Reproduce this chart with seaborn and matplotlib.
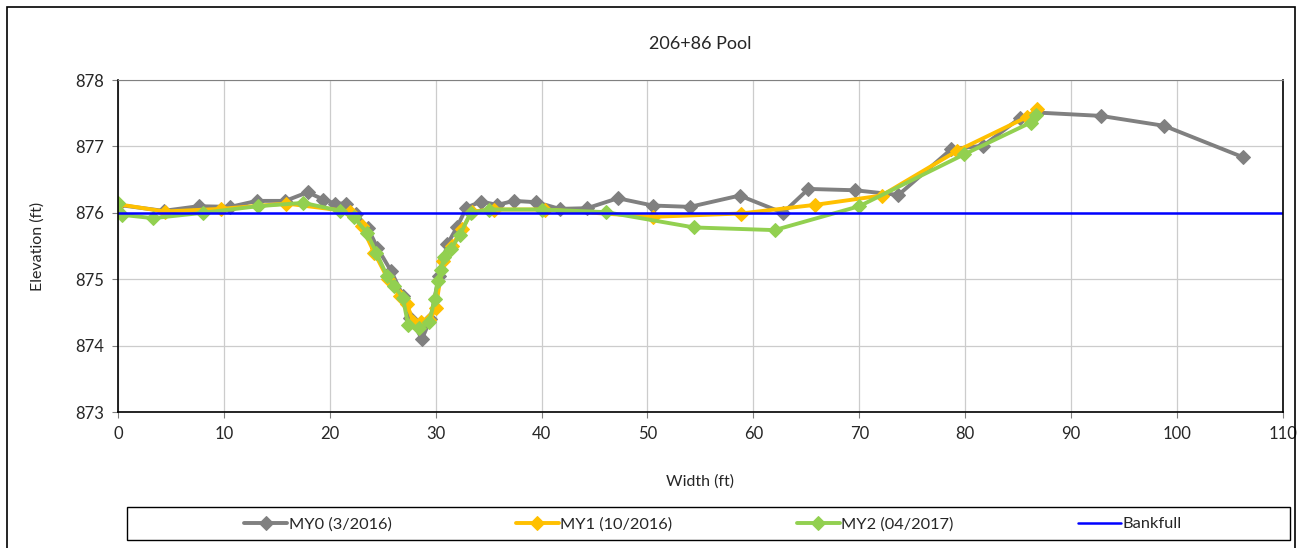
import numpy as np
import pandas as pd
import matplotlib
matplotlib.use("Agg")
import matplotlib.pyplot as plt
import seaborn as sns
from matplotlib.patches import Rectangle

# survey data
my0_x = [0, 4.3, 7.6, 10.6, 13.1, 15.8, 17.9, 19.4, 20.5, 21.5, 22.5, 23.6, 24.5, 25.8,
         26.9, 27.6, 28.7, 29.5, 30.3, 31.1, 32.0, 32.9, 34.3, 35.8, 37.4, 39.5, 41.7,
         44.3, 47.2, 50.5, 54.0, 58.7, 62.8, 65.2, 69.6, 73.7, 78.7, 81.7, 85.2, 86.8,
         92.8, 98.8, 106.2]
my0_y = [876.12, 876.03, 876.10, 876.09, 876.18, 876.18, 876.31, 876.20, 876.14, 876.14,
         875.98, 875.77, 875.47, 875.12, 874.75, 874.42, 874.10, 874.40, 875.05, 875.53,
         875.78, 876.08, 876.17, 876.12, 876.18, 876.16, 876.06, 876.07, 876.22, 876.11,
         876.09, 876.26, 876.00, 876.36, 876.34, 876.27, 876.96, 877.01, 877.43, 877.51,
         877.46, 877.31, 876.84]

my1_x = [0, 4.4, 9.7, 15.9, 21.9, 23.0, 24.2, 25.5, 26.6, 27.3, 27.9, 28.6, 29.4, 30.0,
         30.7, 31.5, 32.5, 33.4, 35.5, 40.3, 50.5, 58.8, 65.8, 72.1, 79.2, 85.8, 86.8]
my1_y = [876.13, 876.02, 876.06, 876.14, 876.02, 875.80, 875.40, 875.00, 874.75, 874.62,
         874.35, 874.36, 874.38, 874.56, 875.28, 875.50, 875.75, 876.02, 876.05, 876.05,
         875.94, 875.99, 876.12, 876.26, 876.93, 877.44, 877.56]

my2_x = [0, 0.4, 3.3, 8.0, 13.2, 17.5, 21.0, 22.3, 23.5, 24.4, 25.4, 26.1, 26.9, 27.4,
         28.4, 29.4, 29.9, 30.2, 30.5, 30.8, 31.4, 32.3, 33.3, 35.0, 40.0, 46.1, 54.4,
         62.0, 70.0, 79.9, 86.2, 86.7]
my2_y = [876.15, 875.97, 875.92, 876.00, 876.10, 876.15, 876.03, 875.93, 875.70, 875.40,
         875.05, 874.90, 874.72, 874.31, 874.26, 874.36, 874.70, 874.98, 875.14, 875.34,
         875.45, 875.67, 876.00, 876.05, 876.05, 876.01, 875.78, 875.74, 876.10, 876.88,
         877.36, 877.47]

bankfull_x = [0, 110]
bankfull_y = [876.0, 876.0]

series = [
    ("MY0 (3/2016)", my0_x, my0_y, "#808080", "D"),
    ("MY1 (10/2016)", my1_x, my1_y, "#FFC000", "D"),
    ("MY2 (04/2017)", my2_x, my2_y, "#92D050", "D"),
    ("Bankfull", bankfull_x, bankfull_y, "#0000FF", None),
]

sns.set_style("white")
plt.rcParams['font.family'] = ['Lato', 'DejaVu Sans']

fig = plt.figure(figsize=(13, 5.48), dpi=100)
ax = fig.add_axes([0.0908, 0.248, 0.896, 0.606])

for name, xs, ys, col, mk in series:
    df = pd.DataFrame({"x": xs, "y": ys})
    if mk:
        sns.lineplot(data=df, x="x", y="y", ax=ax, sort=False, color=col, lw=2.8,
                     marker=mk, markersize=7, markeredgecolor=col, label=name)
    else:
        sns.lineplot(data=df, x="x", y="y", ax=ax, sort=False, color=col, lw=1.8,
                     label=name)

ax.set_xlim(0, 110)
ax.set_ylim(873, 878)
ax.set_xticks(np.arange(0, 111, 10))
ax.set_yticks(np.arange(873, 879, 1))
ax.grid(True, color="#cccccc", lw=0.9)
ax.set_axisbelow(True)
for side in ["left", "bottom", "right"]:
    ax.spines[side].set_color("black")
    ax.spines[side].set_linewidth(1.2)
ax.spines["top"].set_color("#808080")
ax.tick_params(axis="both", labelsize=12, direction="out", length=4, color="#808080",
               left=True, bottom=True, pad=6)

ax.set_title("206+86 Pool", fontsize=13, pad=22)
ax.set_xlabel("Width (ft)", fontsize=11.5, labelpad=23)
ax.set_ylabel("Elevation (ft)", fontsize=11.5, labelpad=22)

handles, labels = ax.get_legend_handles_labels()
ax.get_legend().remove()
fig.legend(handles, labels, loc="center", bbox_to_anchor=(0.5485, 0.0435), ncol=4,
           frameon=False, fontsize=11.8, handlelength=2.6, columnspacing=7.6,
           handletextpad=0.1)

# legend frame and chart border
fig.add_artist(Rectangle((127 / 1300, 8 / 548), 1163 / 1300, 33 / 548,
                         transform=fig.transFigure, fill=False, ec="black", lw=1.0))
fig.add_artist(Rectangle((7 / 1300, -0.05), 1288 / 1300, 1.05 - 7 / 548,
                         transform=fig.transFigure, fill=False, ec="black", lw=1.2))

fig.savefig("out.png", dpi=100)
